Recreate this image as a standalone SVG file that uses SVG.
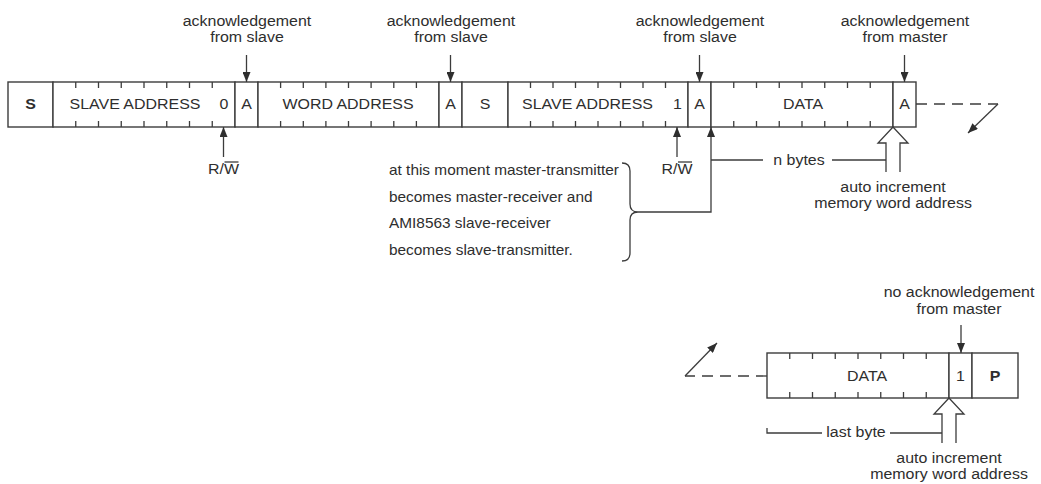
<svg xmlns="http://www.w3.org/2000/svg" width="1041" height="484" viewBox="0 0 1041 484">
<style>
.box{fill:#fff;stroke:#3c3c3c;stroke-width:1.4}
.tk{fill:none;stroke:#3c3c3c;stroke-width:1.3}
.ln{fill:none;stroke:#3c3c3c;stroke-width:1.3}
.dash{stroke-dasharray:11 7}
.hol{fill:#fff;stroke:#3c3c3c;stroke-width:1.3}
.t{font-family:"Liberation Sans",Arial,sans-serif;font-size:14.5px;fill:#2e2e2e;text-anchor:middle}
.b{font-weight:bold}
.p{font-size:14px;text-anchor:start}
</style>
<defs>
<marker id="ah" markerUnits="userSpaceOnUse" markerWidth="10" markerHeight="8" refX="10" refY="4" orient="auto">
<path d="M0,0 L10,4 L0,8 Z" fill="#2e2e2e"/>
</marker>
</defs>
<rect width="1041" height="484" fill="#fff"/>

<g id="frame-top">
<g id="f-start"><rect class="box" x="8" y="82" width="45" height="45"/><text class="t b" transform="translate(30.5,109) scale(1.1,1)">S</text></g>
<g id="f-slave-address-w"><rect class="box" x="53" y="82" width="182" height="45"/>
<path class="tk" d="M75.75,82v6M98.5,82v6M121.25,82v6M144,82v6M166.75,82v6M189.5,82v6M212.25,82v6M75.75,127v-6M98.5,127v-6M121.25,127v-6M144,127v-6M166.75,127v-6M189.5,127v-6M212.25,127v-6"/>
<text class="t" transform="translate(135,109) scale(1.1,1)">SLAVE ADDRESS</text>
<text class="t" transform="translate(224,109) scale(1.1,1)">0</text></g>
<g id="f-ack1"><rect class="box" x="235" y="82" width="23" height="45"/><text class="t" transform="translate(246.5,109) scale(1.1,1)">A</text></g>
<g id="f-word-address"><rect class="box" x="258" y="82" width="181" height="45"/>
<path class="tk" d="M280.6,82v6M303.3,82v6M325.9,82v6M348.5,82v6M371.1,82v6M393.8,82v6M416.4,82v6M280.6,127v-6M303.3,127v-6M325.9,127v-6M348.5,127v-6M371.1,127v-6M393.8,127v-6M416.4,127v-6"/>
<text class="t" transform="translate(348,109) scale(1.1,1)">WORD ADDRESS</text></g>
<g id="f-ack2"><rect class="box" x="439" y="82" width="23" height="45"/><text class="t" transform="translate(450.5,109) scale(1.1,1)">A</text></g>
<g id="f-restart"><rect class="box" x="462" y="82" width="46" height="45"/><text class="t" transform="translate(485,109) scale(1.1,1)">S</text></g>
<g id="f-slave-address-r"><rect class="box" x="508" y="82" width="180" height="45"/>
<path class="tk" d="M530.5,82v6M553,82v6M575.5,82v6M598,82v6M620.5,82v6M643,82v6M665.5,82v6M530.5,127v-6M553,127v-6M575.5,127v-6M598,127v-6M620.5,127v-6M643,127v-6M665.5,127v-6"/>
<text class="t" transform="translate(587.5,109) scale(1.1,1)">SLAVE ADDRESS</text>
<text class="t" transform="translate(677.5,109) scale(1.1,1)">1</text></g>
<g id="f-ack3"><rect class="box" x="688" y="82" width="23" height="45"/><text class="t" transform="translate(699.5,109) scale(1.1,1)">A</text></g>
<g id="f-data"><rect class="box" x="711" y="82" width="182" height="45"/>
<path class="tk" d="M733.75,82v6M756.5,82v6M779.25,82v6M802,82v6M824.75,82v6M847.5,82v6M870.25,82v6M733.75,127v-6M756.5,127v-6M779.25,127v-6M802,127v-6M824.75,127v-6M847.5,127v-6M870.25,127v-6"/>
<text class="t" transform="translate(803,109) scale(1.1,1)">DATA</text></g>
<g id="f-ack4"><rect class="box" x="893" y="82" width="23" height="45"/><text class="t" transform="translate(904.5,109) scale(1.1,1)">A</text></g>
</g>

<g id="frame-bottom">
<g id="f-data-last"><rect class="box" x="767" y="353" width="182" height="45"/>
<path class="tk" d="M789.75,353v6M812.5,353v6M835.25,353v6M858,353v6M880.75,353v6M903.5,353v6M926.25,353v6M789.75,398v-6M812.5,398v-6M835.25,398v-6M858,398v-6M880.75,398v-6M903.5,398v-6M926.25,398v-6"/>
<text class="t" transform="translate(867,380.5) scale(1.1,1)">DATA</text></g>
<g id="f-noack"><rect class="box" x="949" y="353" width="23" height="45"/><text class="t" transform="translate(960.5,380.5) scale(1.1,1)">1</text></g>
<g id="f-stop"><rect class="box" x="972" y="353" width="46" height="45"/><text class="t b" transform="translate(995,380.5) scale(1.1,1)">P</text></g>
</g>

<g id="labels">
<g id="lbl-ack1"><text class="t" transform="translate(247,26) scale(1.1,1)">acknowledgement</text><text class="t" transform="translate(247,42) scale(1.1,1)">from slave</text></g>
<g id="lbl-ack2"><text class="t" transform="translate(451,26) scale(1.1,1)">acknowledgement</text><text class="t" transform="translate(451,42) scale(1.1,1)">from slave</text></g>
<g id="lbl-ack3"><text class="t" transform="translate(700,26) scale(1.1,1)">acknowledgement</text><text class="t" transform="translate(700,42) scale(1.1,1)">from slave</text></g>
<g id="lbl-ack4"><text class="t" transform="translate(905,26) scale(1.1,1)">acknowledgement</text><text class="t" transform="translate(905,42) scale(1.1,1)">from master</text></g>
<g id="lbl-rw1"><text class="t" transform="translate(223.5,174) scale(1.1,1)">R/W</text><line class="ln" x1="224.5" y1="162" x2="238.5" y2="162"/></g>
<g id="lbl-rw2"><text class="t" transform="translate(677,174) scale(1.1,1)">R/W</text><line class="ln" x1="678" y1="162" x2="692" y2="162"/></g>
<g id="lbl-nbytes"><text class="t" transform="translate(799,165) scale(1.1,1)">n bytes</text></g>
<g id="lbl-auto1"><text class="t" transform="translate(893,191.5) scale(1.1,1)">auto increment</text><text class="t" transform="translate(893,207.5) scale(1.1,1)">memory word address</text></g>
<g id="lbl-moment">
<text class="t p" transform="translate(389,175) scale(1.1,1)">at this moment master-transmitter</text>
<text class="t p" transform="translate(389,201.5) scale(1.1,1)">becomes master-receiver and</text>
<text class="t p" transform="translate(389,228) scale(1.1,1)">AMI8563 slave-receiver</text>
<text class="t p" transform="translate(389,254.5) scale(1.1,1)">becomes slave-transmitter.</text>
</g>
<g id="lbl-noack"><text class="t" transform="translate(959,297) scale(1.1,1)">no acknowledgement</text><text class="t" transform="translate(959,314) scale(1.1,1)">from master</text></g>
<g id="lbl-lastbyte"><text class="t" transform="translate(856,437) scale(1.1,1)">last byte</text></g>
<g id="lbl-auto2"><text class="t" transform="translate(949,463) scale(1.1,1)">auto increment</text><text class="t" transform="translate(949,479) scale(1.1,1)">memory word address</text></g>
</g>

<g id="connectors">
<line class="ln" x1="246.5" y1="55" x2="246.5" y2="82" marker-end="url(#ah)"/>
<line class="ln" x1="450.5" y1="55" x2="450.5" y2="82" marker-end="url(#ah)"/>
<line class="ln" x1="699.5" y1="55" x2="699.5" y2="82" marker-end="url(#ah)"/>
<line class="ln" x1="904.5" y1="55" x2="904.5" y2="82" marker-end="url(#ah)"/>
<line class="ln" x1="223.5" y1="157" x2="223.5" y2="127" marker-end="url(#ah)"/>
<line class="ln" x1="677" y1="157" x2="677" y2="127" marker-end="url(#ah)"/>
<path class="ln" d="M622,163 Q630,163 630,171 V204 Q630,212 638,212 Q630,212 630,220 V253 Q630,261 622,261"/>
<path class="ln" d="M638,212 H711 V127" marker-end="url(#ah)"/>
<path class="ln" d="M711,160 H763 M832,160 H886"/>
<path class="hol" d="M886,172 V143 H878 L893,127 L908,143 H900 V172"/>
<line class="ln dash" x1="916" y1="104" x2="998" y2="104"/>
<line class="ln" x1="998" y1="104" x2="968" y2="133" marker-end="url(#ah)"/>
<line class="ln" x1="961" y1="325" x2="961" y2="353" marker-end="url(#ah)"/>
<line class="ln dash" x1="767" y1="376" x2="685" y2="376"/>
<line class="ln" x1="685" y1="376" x2="717" y2="343" marker-end="url(#ah)"/>
<path class="ln" d="M767,428 V433 H822 M890,433 H942"/>
<path class="hol" d="M942,443 V414 H934 L949,398 L964,414 H956 V443"/>
</g>
</svg>
